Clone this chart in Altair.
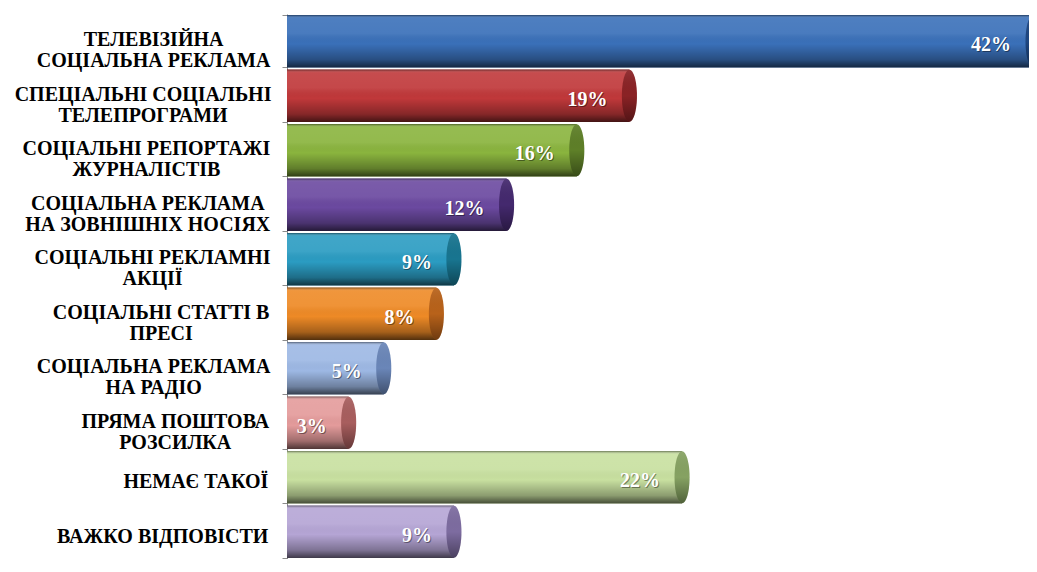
import altair as alt
import pandas as pd

# ---- data ----
categories = [
    "ТЕЛЕВІЗІЙНА|СОЦІАЛЬНА РЕКЛАМА",
    "СПЕЦІАЛЬНІ СОЦІАЛЬНІ|ТЕЛЕПРОГРАМИ",
    "СОЦІАЛЬНІ РЕПОРТАЖІ|ЖУРНАЛІСТІВ",
    "СОЦІАЛЬНА РЕКЛАМА|НА ЗОВНІШНІХ НОСІЯХ",
    "СОЦІАЛЬНІ РЕКЛАМНІ|АКЦІЇ",
    "СОЦІАЛЬНІ СТАТТІ В|ПРЕСІ",
    "СОЦІАЛЬНА РЕКЛАМА|НА РАДІО",
    "ПРЯМА ПОШТОВА|РОЗСИЛКА",
    "НЕМАЄ ТАКОЇ",
    "ВАЖКО ВІДПОВІСТИ",
]
values = [42, 19, 16, 12, 9, 8, 5, 3, 22, 9]
value_labels = ["42%", "19%", "16%", "12%", "9%", "8%", "5%", "3%", "22%", "9%"]
bar_colors = ["#3A70B9", "#C0383A", "#8AB43E", "#6B49A0", "#2B9CC2",
              "#EE8A26", "#9DB8E4", "#E49B9B", "#C8E0A0", "#B5A5D5"]
cap_colors = ["#1E4680", "#8A2225", "#5E7F28", "#44296E", "#187590",
              "#B8621A", "#6A86B8", "#A85E5E", "#86A262", "#7D6CA0"]

FONT_SIZE = 20
LABEL_RIGHT = 17   # gap (px) between the label block and the axis line
X_MIN, X_MAX = -0.513, 41.77

# approximate advance widths (1/1000 em) of Liberation Serif Bold, used only
# to centre the lines of a two-line label inside a right-aligned block
W = {'А': 722, 'Б': 667, 'В': 667, 'Г': 611, 'Д': 700, 'Е': 667, 'Є': 722,
     'Ж': 1000, 'З': 556, 'И': 778, 'І': 389, 'Ї': 389, 'Й': 778, 'К': 778,
     'Л': 722, 'М': 944, 'Н': 778, 'О': 778, 'П': 778, 'Р': 611, 'С': 722,
     'Т': 667, 'У': 722, 'Ф': 833, 'Х': 722, 'Ц': 778, 'Ч': 722, 'Ш': 1056,
     'Щ': 1056, 'Ь': 611, 'Ю': 1000, 'Я': 722, ' ': 250}


def block_width(label):
    return max(sum(W.get(c, 700) for c in l) for l in label.split("|")) * FONT_SIZE / 1000


df = pd.DataFrame({
    "cat": categories,
    "value": values,
    "label": value_labels,
    "color": bar_colors,
    "cap": cap_colors,
})
df["cx"] = [-(LABEL_RIGHT + block_width(c) / 2) for c in categories]

y_enc = alt.Y(
    "cat:N", sort=categories, title=None,
    scale=alt.Scale(paddingInner=0.04, paddingOuter=0.02),
    axis=alt.Axis(
        labels=False, tickBand="extent", tickSize=5, tickColor="#8C8C8C",
        domainColor="#8C8C8C", domainWidth=1, grid=False,
    ),
)
x_scale = alt.Scale(domain=[X_MIN, X_MAX], nice=False, zero=False)
x_enc = alt.X("value:Q", scale=x_scale, axis=None)
x2_enc = alt.X2(datum=X_MIN)

base = alt.Chart(df)

bars = base.mark_bar(cornerRadius=0).encode(
    x=x_enc, x2=x2_enc, y=y_enc,
    fill=alt.Fill("color:N", scale=None),
)

shade = alt.Gradient(
    gradient="linear", x1=0, x2=0, y1=0, y2=1,
    stops=[
        alt.GradientStop(color="rgba(0,0,0,0.45)", offset=0),
        alt.GradientStop(color="rgba(255,255,255,0.10)", offset=0.06),
        alt.GradientStop(color="rgba(255,255,255,0.08)", offset=0.35),
        alt.GradientStop(color="rgba(0,0,0,0)", offset=0.55),
        alt.GradientStop(color="rgba(0,0,0,0.3)", offset=0.85),
        alt.GradientStop(color="rgba(0,0,0,0.65)", offset=1),
    ],
)
shading = base.mark_bar(fill=shade).encode(x=x_enc, x2=x2_enc, y=y_enc)

ellipse = "M0,-1 A0.29,1 0 1,1 0,1 A0.29,1 0 1,1 0,-1 Z"
caps = base.mark_point(shape=ellipse, size=2704, filled=True, opacity=1,
                       strokeWidth=0).encode(
    x=x_enc, y=y_enc, fill=alt.Fill("cap:N", scale=None),
)
cap_shade = alt.Gradient(
    gradient="linear", x1=0, x2=0, y1=0, y2=1,
    stops=[
        alt.GradientStop(color="rgba(255,255,255,0.08)", offset=0),
        alt.GradientStop(color="rgba(0,0,0,0)", offset=0.5),
        alt.GradientStop(color="rgba(0,0,0,0.4)", offset=1),
    ],
)
caps_sh = base.mark_point(shape=ellipse, size=2704, filled=True, fill=cap_shade,
                          opacity=1, strokeWidth=0).encode(x=x_enc, y=y_enc)

label_style = dict(align="center", baseline="middle", lineHeight=21,
                   font="Liberation Serif", fontWeight="bold",
                   fontSize=FONT_SIZE, color="#000000")

labels_two = base.transform_filter(
    "indexof(datum.cat, '|') >= 0"
).transform_calculate(
    lines="split(datum.cat, '|')"
).mark_text(dy=-1, **label_style).encode(
    x=alt.X("cx:Q", scale=None), y=y_enc, text="lines:N")

labels_one = base.transform_filter(
    "indexof(datum.cat, '|') < 0"
).mark_text(dy=5, **label_style).encode(
    x=alt.X("cx:Q", scale=None), y=y_enc, text="cat:N")

text_shadow = base.mark_text(
    align="right", baseline="middle", dx=-21, dy=5,
    font="Liberation Serif", fontWeight="bold", fontSize=20,
    color="#000000", opacity=0.4,
).encode(x=x_enc, y=y_enc, text="label:N")

texts = base.mark_text(
    align="right", baseline="middle", dx=-22, dy=4,
    font="Liberation Serif", fontWeight="bold", fontSize=20, color="#FFFFFF",
).encode(x=x_enc, y=y_enc, text="label:N")

chart = alt.layer(bars, shading, caps, caps_sh, labels_two, labels_one,
                  text_shadow, texts).properties(
    width=742, height=545,
    autosize=alt.AutoSizeParams(type="none"),
    padding={"left": 279, "top": 6, "right": 0, "bottom": 0},
    background="#FFFFFF",
).configure_view(stroke=None)

chart.save("out.html", embed_options={"renderer": "svg", "actions": False})
